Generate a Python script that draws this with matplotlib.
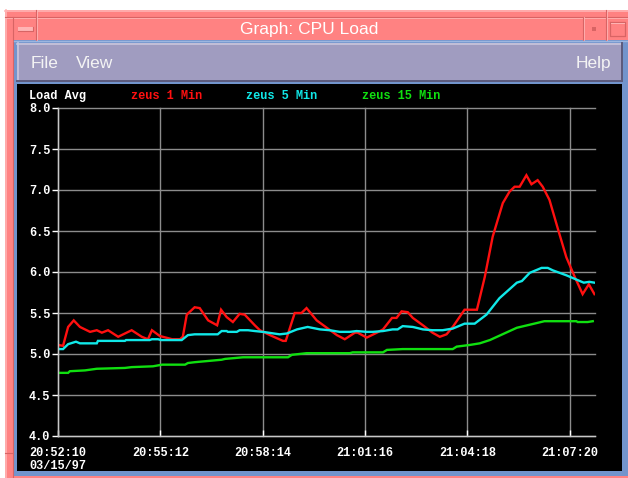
import matplotlib
matplotlib.use("Agg")
import matplotlib.pyplot as plt
from matplotlib.patches import Rectangle
from matplotlib.lines import Line2D

# ---------------- data (seconds after 20:52:10) ----------------
t_1min = [0, 9, 18, 28, 39, 57, 69, 78, 89, 107, 131, 149, 160, 167, 181, 203, 217, 222,
          229, 243, 252, 267, 283, 290, 300, 311, 323, 332, 350, 359, 377, 400, 405, 421,
          433, 442, 460, 478, 496, 510, 528, 533, 549, 567, 578, 594, 602, 611, 622, 631,
          649, 666, 679, 691, 702, 714, 723, 745, 759, 773, 791, 803, 812, 821, 833, 842,
          853, 862, 874, 888, 904, 919, 933, 944, 954]
load_1min = [5.11, 5.10, 5.33, 5.41, 5.33, 5.27, 5.29, 5.26, 5.29, 5.21, 5.29, 5.21, 5.18,
             5.29, 5.22, 5.18, 5.18, 5.21, 5.48, 5.57, 5.56, 5.41, 5.35, 5.54, 5.45, 5.39,
             5.49, 5.48, 5.35, 5.29, 5.23, 5.16, 5.16, 5.50, 5.50, 5.56, 5.41, 5.32, 5.23,
             5.18, 5.26, 5.26, 5.20, 5.26, 5.30, 5.44, 5.44, 5.52, 5.51, 5.44, 5.35, 5.26,
             5.21, 5.24, 5.33, 5.45, 5.54, 5.54, 5.94, 6.43, 6.84, 6.98, 7.04, 7.04, 7.18,
             7.07, 7.12, 7.04, 6.88, 6.55, 6.18, 5.94, 5.73, 5.85, 5.73]

t_5min = [0, 9, 18, 32, 39, 69, 71, 119, 121, 163, 167, 178, 183, 220, 231, 243, 284, 291,
          300, 302, 318, 323, 338, 350, 364, 394, 407, 425, 444, 466, 483, 501, 519, 531,
          549, 560, 578, 595, 604, 613, 631, 649, 666, 684, 702, 723, 741, 762, 785, 816,
          825, 839, 860, 871, 880, 904, 928, 935, 945, 954]
load_5min = [5.06, 5.06, 5.12, 5.15, 5.13, 5.13, 5.16, 5.16, 5.17, 5.17, 5.18, 5.18, 5.17,
             5.17, 5.23, 5.24, 5.24, 5.28, 5.28, 5.27, 5.27, 5.29, 5.29, 5.28, 5.27, 5.24,
             5.25, 5.30, 5.33, 5.30, 5.29, 5.27, 5.27, 5.28, 5.27, 5.27, 5.28, 5.30, 5.30,
             5.34, 5.33, 5.30, 5.29, 5.29, 5.31, 5.37, 5.37, 5.48, 5.68, 5.87, 5.89, 5.99,
             6.05, 6.05, 6.02, 5.96, 5.89, 5.87, 5.88, 5.87]

t_15min = [0, 18, 21, 48, 69, 119, 131, 169, 185, 226, 231, 243, 291, 297, 329, 409, 416,
           442, 519, 524, 578, 585, 613, 702, 709, 732, 750, 768, 816, 853, 865, 922, 924,
           942, 951]
load_15min = [4.77, 4.77, 4.79, 4.80, 4.82, 4.83, 4.84, 4.85, 4.87, 4.87, 4.89, 4.90, 4.93,
              4.94, 4.96, 4.96, 4.99, 5.01, 5.01, 5.02, 5.02, 5.05, 5.06, 5.06, 5.09, 5.11,
              5.13, 5.17, 5.32, 5.38, 5.40, 5.40, 5.39, 5.39, 5.40]

series_names = ["zeus 1 Min", "zeus 5 Min", "zeus 15 Min"]
series_colors = ["#ff1010", "#10e8e8", "#10e010"]

x_tick_pos = [0, 182, 364, 546, 728, 910]
x_tick_labels = ["20:52:10\n03/15/97", "20:55:12", "20:58:14", "21:01:16", "21:04:18", "21:07:20"]
y_ticks = [4.0, 4.5, 5.0, 5.5, 6.0, 6.5, 7.0, 7.5, 8.0]

window_title = "Graph: CPU Load"
menu_left = ["File", "View"]
menu_right = "Help"

# ---------------- figure & window chrome ----------------
W, H = 628, 478
fig = plt.figure(figsize=(W / 100, H / 100), dpi=100)
fig.patch.set_facecolor("white")
bg = fig.add_axes([0, 0, 1, 1])
bg.set_xlim(0, W)
bg.set_ylim(H, 0)
bg.axis("off")

def rect(x0, y0, x1, y1, color, z=1, **kw):
    bg.add_patch(Rectangle((x0, y0), x1 - x0, y1 - y0, facecolor=color,
                           edgecolor="none", zorder=z, **kw))

def line(xs, ys, color, lw=1.0, z=3):
    bg.add_line(Line2D(xs, ys, color=color, lw=lw, zorder=z))

pink = "#ff8282"
pink_light = "#ffb4b4"
pink_dark = "#d86464"
blue = "#7294cc"
lav = "#a09cc0"

# outer pink frame
rect(5, 10, W, H, pink, z=1)
line([5.5, 5.5], [10, H], pink_light, 1.2)
line([5, W], [10.5, 10.5], pink_light, 1.2)
line([5, W], [17, 17], pink_dark, 0.8)
line([5, W], [18, 18], pink_light, 0.6)
line([36, 36], [10, 40], pink_dark, 0.8)
line([37, 37], [10, 40], pink_light, 0.6)
line([13, 13], [17, H], pink_dark, 0.8)
line([583, 583], [17, 40], pink_dark, 0.8)
line([584, 584], [17, 40], pink_light, 0.6)
line([606, 606], [10, 40], pink_dark, 0.8)
line([607, 607], [10, 40], pink_light, 0.6)
line([5, 13], [453, 453], pink_dark, 0.8)
# minimize bar
rect(18, 27, 33, 31, pink_light, z=2)
line([18, 33, 33], [31, 31, 27], pink_dark, 0.8)
# small dot button
rect(592, 27, 596, 31, pink_dark, z=2)
# maximize box
line([610, 625, 625, 610, 610], [22, 22, 36, 36, 22], pink_dark, 0.9)
line([611, 624], [23, 23], pink_light, 0.7)

# blue inner frame
rect(14, 40, W, 476, blue, z=1.5)
line([14, W], [40.5, 40.5], "#9cb6e0", 1.0)
# lavender menu bar
rect(17, 43, 622, 81, lav, z=2)
line([17, 622], [43.5, 43.5], "#c8c6dc", 1.2)
line([17.5, 17.5], [43, 81], "#c8c6dc", 1.2)
line([17, 622], [80.5, 80.5], "#5c5a7c", 1.4)
line([621.5, 621.5], [43, 81], "#5c5a7c", 1.4)
# black panel
rect(17, 84, 622, 471, "black", z=2)

# title & menu text
bg.text(309, 29, window_title, color="white", fontsize=12.5, family="Liberation Sans",
        ha="center", va="center", zorder=5)
menu_x = [31, 76]
for mx, m in zip(menu_x, menu_left):
    bg.text(mx, 63, m, color="#f4f4f4", fontsize=12.5, family="Liberation Sans",
            ha="left", va="center", zorder=5)
bg.text(611, 63, menu_right, color="#f4f4f4", fontsize=12.5, family="Liberation Sans",
        ha="right", va="center", zorder=5)

mono = dict(family="Liberation Mono", fontweight="bold", fontsize=8.6)
bg.text(29, 96, "Load Avg", color="white", ha="left", va="center", zorder=5, **mono)
legend_x = [131, 246, 362]
for lx, name, col in zip(legend_x, series_names, series_colors):
    bg.text(lx, 96, name, color=col, ha="left", va="center", zorder=5, **mono)

# ---------------- plot axes ----------------
ax_left, ax_right, ax_top, ax_bottom = 58, 595, 108, 436
ax = fig.add_axes([ax_left / W, (H - ax_bottom) / H,
                   (ax_right - ax_left) / W, (ax_bottom - ax_top) / H])
ax.set_facecolor("none")
ax.set_xlim(0, 955)
ax.set_ylim(4.0, 8.0)

ax.grid(True, color="#8c8c8c", lw=1.0)
ax.set_axisbelow(True)
for s in ["top", "right"]:
    ax.spines[s].set_visible(False)
for s in ["left", "bottom"]:
    ax.spines[s].set_color("#c8c8c8")
    ax.spines[s].set_linewidth(1.0)

ax.set_yticks(y_ticks)
ax.set_yticklabels([f"{v:.1f}" for v in y_ticks])
ax.set_xticks(x_tick_pos)
ax.set_xticklabels(x_tick_labels, linespacing=1.05)

ax.tick_params(axis="y", colors="white", length=4.5, width=1.0, pad=1, direction="out")
ax.tick_params(axis="x", colors="white", length=4.5, width=1.0, pad=8, direction="in")
for lab in ax.get_xticklabels() + ax.get_yticklabels():
    lab.set_family("Liberation Mono")
    lab.set_fontweight("bold")
    lab.set_fontsize(8.6)
    lab.set_color("white")
for gl in ax.get_ygridlines() + ax.get_xgridlines():
    gl.set_clip_on(False)

for tx, ys, col in zip([t_1min, t_5min, t_15min], [load_1min, load_5min, load_15min],
                       series_colors):
    ax.plot(tx, ys, color=col, lw=1.7, solid_joinstyle="miter")

fig.savefig("out.png", dpi=100, facecolor=fig.get_facecolor())
